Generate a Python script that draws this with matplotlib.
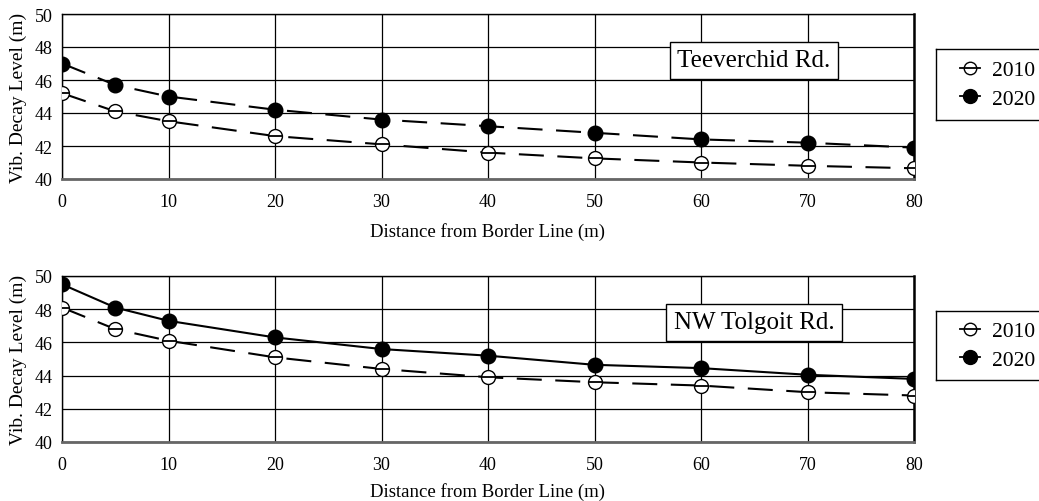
import matplotlib
matplotlib.use("Agg")
import matplotlib.pyplot as plt
from matplotlib.lines import Line2D

distance = [0, 5, 10, 20, 30, 40, 50, 60, 70, 80]
teev_2010 = [45.2, 44.1, 43.5, 42.6, 42.1, 41.6, 41.25, 41.0, 40.8, 40.65]
teev_2020 = [47.0, 45.7, 45.0, 44.2, 43.6, 43.2, 42.8, 42.4, 42.2, 41.9]
tolg_2010 = [48.1, 46.8, 46.1, 45.1, 44.4, 43.9, 43.6, 43.4, 43.0, 42.8]
tolg_2020 = [49.5, 48.1, 47.3, 46.3, 45.6, 45.2, 44.65, 44.45, 44.05, 43.8]
xticks = [0, 10, 20, 30, 40, 50, 60, 70, 80]
yticks = [40, 42, 44, 46, 48, 50]
titles = ["Teeverchid Rd.", "NW Tolgoit Rd."]
years = ["2010", "2020"]

plt.rcParams['font.family'] = ['Liberation Serif', 'DejaVu Serif']

fig = plt.figure(figsize=(10.39, 5.02), dpi=100)
W, H = 1039, 502
DASH = (0, (12, 6.5))
panels = [
    (teev_2010, teev_2020, DASH, DASH, 15, 180, 237, (936, 50, 110, 71)),
    (tolg_2010, tolg_2020, DASH, '-', 277, 443, 497, (936, 312, 110, 69)),
]
for i, (s10, s20, ls10, ls20, top, bot, xlab_y, leg) in enumerate(panels):
    left, right = 62, 914
    ax = fig.add_axes([left / W, 1 - bot / H, (right - left) / W, (bot - top) / H])
    ax.plot(distance, s10, color='black', lw=1.5, linestyle=ls10,
            marker='o', markersize=10, markerfacecolor='white',
            markeredgecolor='black', markeredgewidth=1.0, zorder=3)
    # horizontal bar through open markers
    ax.plot(distance, s10, linestyle='none', marker='_', markersize=10,
            color='black', markeredgewidth=1.3, zorder=4)
    ax.plot(distance, s20, color='black', lw=1.5, linestyle=ls20,
            marker='o', markersize=10.5, markerfacecolor='black',
            markeredgecolor='black', zorder=3)
    ax.set_xlim(0, 80)
    ax.set_ylim(40, 50)
    ax.set_xticks(xticks)
    ax.set_yticks(yticks)
    ax.tick_params(length=0, labelsize=13)
    ax.tick_params(axis='x', pad=10)
    ax.tick_params(axis='y', pad=7)
    ax.grid(True, color='black', lw=0.9)
    ax.set_axisbelow(True)
    for sp in ax.spines.values():
        sp.set_color('black')
        sp.set_linewidth(1.0)
    ax.spines['right'].set_linewidth(1.8)
    ax.spines['bottom'].set_linewidth(2.0)
    ax.spines['bottom'].set_color('#666666')
    ax.set_ylabel("Vib. Decay Level (m)", fontsize=14, labelpad=5)
    ax.text(0.812, 0.72, titles[i], transform=ax.transAxes, fontsize=18,
            ha='center', va='center',
            bbox=dict(boxstyle='square,pad=0.3', facecolor='white',
                      edgecolor='black', lw=1.0), zorder=6)
    fig.text(488 / W, 1 - xlab_y / H, "Distance from Border Line (m)",
             ha='center', va='baseline', fontsize=13.5)
    # legend
    lx, ly, lw_, lh = leg
    lax = fig.add_axes([lx / W, 1 - (ly + lh) / H, lw_ / W, lh / H])
    lax.set_xlim(0, lw_)
    lax.set_ylim(lh, 0)
    lax.set_xticks([])
    lax.set_yticks([])
    for sp in lax.spines.values():
        sp.set_color('black')
        sp.set_linewidth(1.0)
    lax.spines['right'].set_visible(False)
    handles = [
        Line2D([0], [0], color='black', lw=1.3, marker='o', markersize=9,
               markerfacecolor='none', markeredgecolor='black'),
        Line2D([0], [0], color='black', lw=1.3, marker='o', markersize=10,
               markerfacecolor='black'),
    ]
    lax.legend(handles, years, loc='center left', frameon=False,
               fontsize=15.5, handlelength=0.95, handletextpad=0.55,
               labelspacing=0.38, borderaxespad=0.7)

fig.savefig("out.png", dpi=100)
